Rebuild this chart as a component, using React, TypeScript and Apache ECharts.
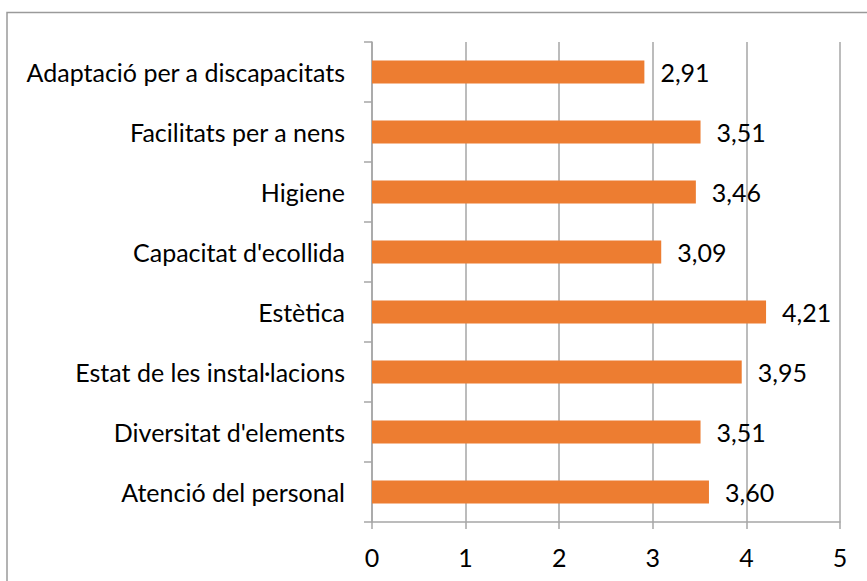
import React, { useEffect, useRef } from "react";
import * as echarts from "echarts";

const categories = [
  "Atenció del personal",
  "Diversitat d'elements",
  "Estat de les instal·lacions",
  "Estètica",
  "Capacitat d'ecollida",
  "Higiene",
  "Facilitats per a nens",
  "Adaptació per a discapacitats",
];
const values = [3.6, 3.51, 3.95, 4.21, 3.09, 3.46, 3.51, 2.91];
const xTicks = [0, 1, 2, 3, 4, 5];

const FONT = "Lato";
const FS = 25;
const FW = 400;

export default function App() {
  const ref = useRef<HTMLDivElement>(null);
  useEffect(() => {
    if (!ref.current) return;
    const chart = echarts.init(ref.current, undefined, { renderer: "svg" });
    chart.setOption({
      animation: false,
      backgroundColor: "#ffffff",
      textStyle: { fontFamily: FONT },
      grid: { left: 372, right: 27, top: 42, bottom: 59, containLabel: false },
      graphic: [
        {
          type: "rect",
          shape: { x: 7, y: 12.5, width: 1000, height: 1000 },
          style: { fill: "none", stroke: "#9a9a9a", lineWidth: 1.5 },
          silent: true,
        },
      ],
      xAxis: {
        type: "value",
        min: xTicks[0],
        max: xTicks[xTicks.length - 1],
        interval: 1,
        axisLine: { show: true, lineStyle: { color: "#a6a6a6", width: 1.5 } },
        axisTick: { show: true, length: 7, lineStyle: { color: "#a6a6a6", width: 1.5 } },
        splitLine: { show: true, lineStyle: { color: "#a6a6a6", width: 1.5 } },
        axisLabel: { color: "#000", fontSize: FS, fontWeight: FW, fontFamily: FONT, margin: 22 },
      },
      yAxis: {
        type: "category",
        data: categories,
        axisLine: { show: true, lineStyle: { color: "#a6a6a6", width: 1.5 } },
        axisTick: { show: true, length: 8, lineStyle: { color: "#a6a6a6", width: 1.5 } },
        axisLabel: { color: "#000", fontSize: FS, fontWeight: FW, fontFamily: FONT, margin: 27 },
      },
      series: [
        {
          type: "bar",
          data: values,
          barWidth: 23,
          itemStyle: { color: "#ED7D31" },
          label: {
            show: true,
            position: "right",
            distance: 16,
            color: "#000",
            fontSize: FS,
            fontWeight: FW,
            fontFamily: FONT,
            formatter: (p: any) => p.value.toFixed(2).replace(".", ","),
          },
        },
      ],
    });
    return () => chart.dispose();
  }, []);
  return (
    <div
      ref={ref}
      style={{ position: "fixed", left: 0, top: 0, width: 867, height: 581 }}
    />
  );
}
